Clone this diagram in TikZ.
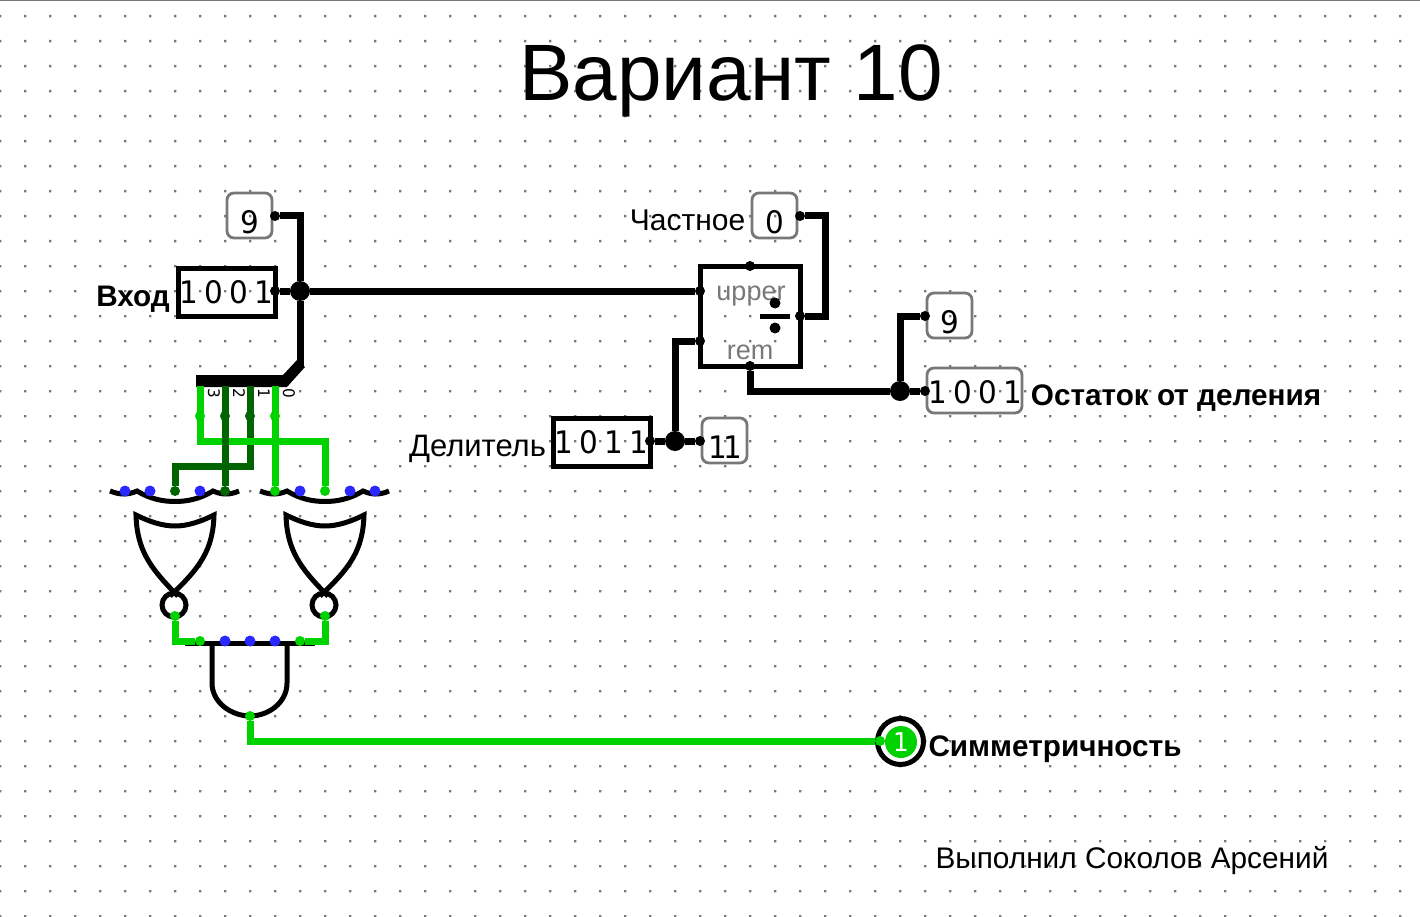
\documentclass[tikz,border=0pt]{standalone}
\usepackage{fontspec}
\setmainfont{Liberation Sans}
\newfontfamily\valfont[FakeStretch=0.95]{DejaVu Sans}
\definecolor{wireon}{RGB}{0,210,0}
\definecolor{wireoff}{RGB}{0,100,0}
\definecolor{wirefree}{RGB}{41,41,255}
\definecolor{griddot}{RGB}{120,120,120}
\newcommand{\fsz}[1]{\fontsize{#1}{#1}\selectfont}
\newcommand{\valtext}{\valfont\fsz{31}\setlength{\spaceskip}{6.3pt}}
\tikzset{
  bus/.style={line width=7pt, black},
  sigon/.style={line width=7pt, wireon},
  sigoff/.style={line width=7pt, wireoff},
  gateline/.style={line width=5pt, black, miter limit=20},
  port/.style={circle, fill=black, inner sep=0pt, minimum size=10pt},
  porton/.style={port, fill=wireon},
  portoff/.style={port, fill=wireoff},
  portfree/.style={port, fill=wirefree, minimum size=11pt},
  joint/.style={circle, fill=black, inner sep=0pt, minimum size=20pt},
  pinbox/.style={draw=black, line width=5pt, inner sep=0pt, minimum width=97pt, minimum height=48pt},
  probe/.style={draw=griddot, line width=2.8pt, rounded corners=7pt, inner sep=0pt, minimum width=45pt, minimum height=45pt},
  val/.style={inner sep=0pt, font=\valtext},
  lbl/.style={inner sep=0pt, font=\fsz{30}},
  lblb/.style={inner sep=0pt, font=\bfseries\fsz{29.7}},
  buslbl/.style={inner sep=0pt, rotate=-90, font=\valfont\fsz{16}},
  greylbl/.style={inner sep=0pt, text=griddot, font=\fsz{27}}
}
\begin{document}
\begin{tikzpicture}[x=1pt, y=-1pt]
  \useasboundingbox (0,0) rectangle (1420,917);
  % Grid
  \fill[griddot] foreach \i in {0,...,56} {foreach \j in {0,...,36} {
    ({25*\i-1},{15+25*\j}) rectangle ++(2.4,2.4)}};
  \draw[griddot, line width=2pt] (0,0) -- (1420,0);

  % Title and labels
  \node[inner sep=0pt, font=\fsz{80}] (title) at (731,81) {Вариант 10};
  \node[lblb] (vhodlbl) at (133,299) {Вход};
  \node[lbl, font=\fsz{31}] (dellbl) at (477.5,449) {Делитель};
  \node[lbl] (chastlbl) at (687.5,220) {Частное};
  \node[lblb] (ostlbl) at (1176,398) {Остаток от деления};
  \node[lblb] (simlbl) at (1055,749) {Симметричность};
  \node[inner sep=0pt, font=\fsz{29.8}] (authlbl) at (1132,861) {Выполнил Соколов Арсений};

  % Input pins and probes
  \node[pinbox] (vhod) at (226.5,292) {};
  \node[val] (vhodval) at (226,292) {1 0 0 1};
  \node[pinbox] (del) at (601.5,442) {};
  \node[val] (delval) at (601,442) {1 0 1 1};
  \node[probe] (pr9a) at (249.5,215.5) {};
  \node[val] (pr9aval) at (250,222) {9};
  \node[probe] (pr0) at (774.5,215.5) {};
  \node[val] (pr0val) at (775,222) {0};
  \node[probe] (pr9b) at (949.5,315.5) {};
  \node[val] (pr9bval) at (950,322) {9};
  \node[probe] (pr11) at (724.5,440.5) {};
  \node[val] (pr11val) at (725,447) {1\kern-4pt 1};
  \node[probe, minimum width=95pt] (prrem) at (974.5,390.5) {};
  \node[val] (prremval) at (975,392) {1 0 0 1};

  % Divider
  \node[draw=black, line width=5pt, inner sep=0pt, minimum width=100pt, minimum height=100pt] (divbox) at (750,316) {};
  \node[greylbl] (upperlbl) at (751,296) {upper};
  \node[greylbl] (remlbl) at (750,352) {rem};
  \coordinate (barl) at (760,316);
  \coordinate (barr) at (790,316);
  \draw[line width=5pt] (barl) -- (barr);
  \node[port, minimum size=11pt] (divdota) at (775,303) {};
  \node[port, minimum size=11pt] (divdotb) at (775,328) {};

  % Ports and joints
  \node[port] (vhodout) at (275,291) {};
  \node[port] (pr9ain) at (275,216) {};
  \node[joint] (j1) at (300,291) {};
  \node[port] (diva) at (700,291) {};
  \node[port] (divb) at (700,341) {};
  \node[port] (divup) at (750,266) {};
  \node[port] (divq) at (800,316) {};
  \node[port] (divr) at (750,366) {};
  \node[port] (pr0in) at (800,216) {};
  \node[joint] (j2) at (900,391) {};
  \node[port] (pr9bin) at (925,316) {};
  \node[port] (prremin) at (925,391) {};
  \node[port] (delout) at (650,441) {};
  \node[joint] (j3) at (675,441) {};
  \node[port] (pr11in) at (700,441) {};

  % Bus wires
  \draw[bus] (vhodout) -- (j1);
  \draw[bus] (j1) -- (diva);
  \draw[bus] (pr9ain) -| (j1);
  \coordinate (spl) at (300,366);
  \draw[bus] (j1) -- (spl);
  \draw[bus] (pr0in) -| (825,316) -- (divq);
  \draw[bus] (divr) |- (j2);
  \draw[bus] (j2) -- (prremin);
  \draw[bus] (j2) |- (pr9bin);
  \draw[bus] (delout) -- (j3);
  \draw[bus] (j3) -- (pr11in);
  \draw[bus] (j3) |- (divb);

  % Splitter
  \fill (196,375) -- (283,375) -- (297,360) -- (305,367) -- (287,387) -- (196,387) -- cycle;
  \node[buslbl] (b3) at (214,393) {3};
  \node[buslbl] (b2) at (239,393) {2};
  \node[buslbl] (b1) at (264,393) {1};
  \node[buslbl] (b0) at (289,393) {0};
  \coordinate (bit3) at (200,386);
  \coordinate (bit2) at (225,386);
  \coordinate (bit1) at (250,386);
  \coordinate (bit0) at (275,386);
  \coordinate (bend3) at (200,441);
  \coordinate (bend1) at (250,466);

  % Left gate
  \draw[gateline] (110,491) .. controls (120,495) and (128,495) .. (137,491)
    .. controls (150,499) and (163,501.5) .. (175,501.5)
    .. controls (187,501.5) and (200,499) .. (213,491)
    .. controls (222,495) and (230,495) .. (239,491);
  \draw[gateline] (178,596) .. controls (150,568) and (137,550) .. (136,515)
    .. controls (150,522) and (163,526) .. (175,526)
    .. controls (187,526) and (200,522) .. (214,515)
    .. controls (213,550) and (200,568) .. (170,596);
  \node[circle, draw=black, line width=5pt, inner sep=0pt, minimum size=24pt] (bubl) at (174,605) {};
  \node[portfree] (la) at (125,491) {};
  \node[portfree] (lb) at (150,491) {};
  \node[portoff] (lc) at (175,491) {};
  \node[portfree] (ld) at (200,491) {};
  \node[portoff] (le) at (225,491) {};
  \node[porton] (lout) at (175,616) {};

  % Right gate
  \begin{scope}[shift={(150,0)}]
    \draw[gateline] (110,491) .. controls (120,495) and (128,495) .. (137,491)
      .. controls (150,499) and (163,501.5) .. (175,501.5)
      .. controls (187,501.5) and (200,499) .. (213,491)
      .. controls (222,495) and (230,495) .. (239,491);
    \draw[gateline] (178,596) .. controls (150,568) and (137,550) .. (136,515)
      .. controls (150,522) and (163,526) .. (175,526)
      .. controls (187,526) and (200,522) .. (214,515)
      .. controls (213,550) and (200,568) .. (170,596);
    \node[circle, draw=black, line width=5pt, inner sep=0pt, minimum size=24pt] (bubr) at (174,605) {};
    \node[porton] (ra) at (125,491) {};
    \node[portfree] (rb) at (150,491) {};
    \node[porton] (rc) at (175,491) {};
    \node[portfree] (rd) at (200,491) {};
    \node[portfree] (re) at (225,491) {};
    \node[porton] (rout) at (175,616) {};
  \end{scope}

  % AND gate
  \draw[gateline] (185,643) -- (315,643);
  \draw[gateline] (212,643) -- (212,683) .. controls (212,703) and (232,716) .. (250,716)
    .. controls (268,716) and (287,703) .. (287,683) -- (287,643);
  \node[porton] (anda) at (200,641) {};
  \node[portfree] (andb) at (225,641) {};
  \node[portfree] (andc) at (250,641) {};
  \node[portfree] (andd) at (275,641) {};
  \node[porton] (ande) at (300,641) {};
  \node[porton] (andout) at (250,716) {};

  % Bit wires
  \node[portoff] (tap1) at (250,416) {};
  \node[porton] (tap3) at (200,416) {};
  \node[portoff] (tap2) at (225,416) {};
  \node[porton] (tap0) at (275,416) {};
  \draw[sigoff] (bit1) -- (bend1) -| (lc);
  \draw[sigon] (bit3) -- (bend3) -| (rc);
  \draw[sigoff] (bit2) -- (le);
  \draw[sigon] (bit0) -- (ra);
  \draw[sigon] (lout) |- (anda);
  \draw[sigon] (rout) |- (ande);

  % Output pin
  \node[circle, draw=black, line width=5pt, inner sep=0pt, minimum size=46pt] (simout) at (900.5,741.5) {};
  \node[circle, fill=wireon, inner sep=0pt, minimum size=32pt, text=white, font=\valfont\fsz{26}] (simval) at (901,742) {1};
  \node[porton] (simin) at (880,741) {};
  \draw[sigon] (andout) |- (simin);
\end{tikzpicture}
\end{document}
